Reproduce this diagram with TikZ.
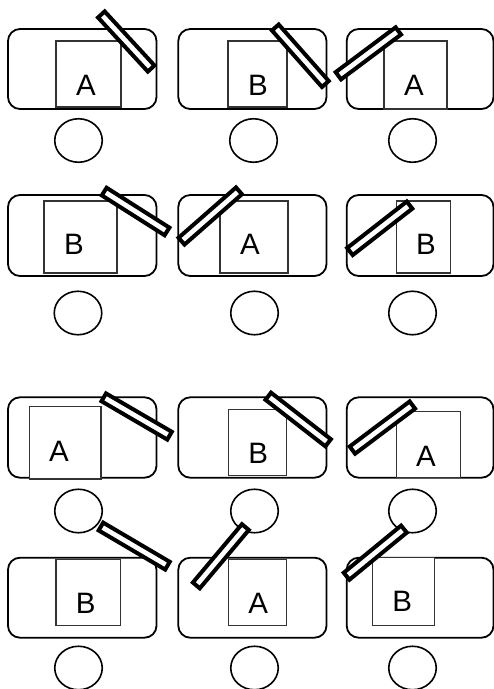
\documentclass[tikz,border=0pt]{standalone}
\usepackage{fontspec}
\setmainfont{Liberation Sans}
\usetikzlibrary{calc,shapes.geometric}
\newcommand\slat[3]{\path let \p1=($(#2)-(#1)$), \n1={veclen(\x1,\y1)} in (#1) -- node[slatbox, sloped, minimum width={(\n1-4)*1pt}] (#3) {} (#2);}
\begin{document}
\begin{tikzpicture}[x=1pt,y=-1pt,
  panel/.style={draw,line width=1.8pt,rounded corners=12pt},
  card/.style={draw=black!80,fill=white,line width=1.1pt},
  letter/.style={font=\fontsize{29.5}{31}\selectfont,inner sep=0pt},
  wheel/.style={draw,ellipse,line width=1.6pt,minimum width=47.5pt,minimum height=43.5pt,inner sep=0pt},
  slatbox/.style={draw,fill=white,line width=4pt,minimum height=9pt,inner sep=0pt}]
\useasboundingbox (0,0) rectangle (494,689);
% row 1
\draw[panel] (8,29) rectangle (156.5,109);
\draw[panel] (178.3,29) rectangle (326.5,109);
\draw[panel] (346.7,29) rectangle (493.5,109);
\draw[card] (56,41) rectangle (121,107);
\draw[card] (228,41) rectangle (287,107);
\draw[card] (384,41) rectangle (447,109);
\node[letter] (t11) at (86,85) {A};
\node[letter] (t12) at (258,85) {B};
\node[letter] (t13) at (414,85) {A};
\node[wheel] (w11) at (78.5,140.5) {};
\node[wheel] (w12) at (253.5,140.5) {};
\node[wheel] (w13) at (412.5,140.5) {};
% row 2
\draw[panel] (8,195) rectangle (156.5,276);
\draw[panel] (178.3,195) rectangle (326.5,276);
\draw[panel] (346.7,195) rectangle (493.5,276);
\draw[card] (44,201) rectangle (117,273);
\draw[card] (220,201) rectangle (288,273);
\draw[card] (396.7,201) rectangle (450.7,273);
\node[letter] (t21) at (74,244) {B};
\node[letter] (t22) at (250,244) {A};
\node[letter] (t23) at (426,244) {B};
\node[wheel] (w21) at (78,313) {};
\node[wheel] (w22) at (254.5,313) {};
\node[wheel] (w23) at (412.5,313) {};
% row 3
\draw[panel] (8,397.3) rectangle (156.5,477.7);
\draw[panel] (178.3,397.3) rectangle (326.5,477.7);
\draw[panel] (346.7,397.3) rectangle (493.5,477.7);
\draw[card] (29.3,406.7) rectangle (101,479);
\draw[card] (228.3,409.3) rectangle (286.7,475.7);
\draw[card] (396.7,411.7) rectangle (460.7,477.7);
\node[letter] (t31) at (59,451) {A};
\node[letter] (t32) at (258.3,453) {B};
\node[letter] (t33) at (426,456) {A};
\node[wheel] (w31) at (78.5,511) {};
\node[wheel] (w32) at (254.5,511) {};
\node[wheel] (w33) at (412.5,511) {};
% row 4
\draw[panel] (8,557.7) rectangle (156.5,637.7);
\draw[panel] (178.3,557.7) rectangle (326.5,637.7);
\draw[panel] (346.7,557.7) rectangle (493.5,637.7);
\draw[card] (56,559.3) rectangle (120.7,625.7);
\draw[card] (228.3,559.3) rectangle (286.7,625.7);
\draw[card] (372.3,557.7) rectangle (434.3,625.7);
\node[letter] (t41) at (85.7,603) {B};
\node[letter] (t42) at (258.3,603) {A};
\node[letter] (t43) at (402.3,601) {B};
\node[wheel] (w41) at (78.5,668) {};
\node[wheel] (w42) at (254.5,668) {};
\node[wheel] (w43) at (412.5,668) {};
% slats
\slat{100,13}{152.5,70}{s11}
\slat{274,26}{326.7,85.5}{s12}
\slat{336.7,77}{400,29.7}{s13}
\slat{102.5,190.5}{168.7,232.5}{s21}
\slat{180,242.5}{240.5,189.5}{s22}
\slat{348.3,252.8}{411.2,203.8}{s23}
\slat{102,396.3}{171.3,436.7}{s31}
\slat{266.7,395}{329.7,444}{s32}
\slat{350.8,451.3}{414,403.8}{s33}
\slat{99.2,525.5}{169.2,566.7}{s41}
\slat{195,587}{246.7,525.5}{s42}
\slat{345,577.5}{405.5,527.8}{s43}
\end{tikzpicture}
\end{document}
